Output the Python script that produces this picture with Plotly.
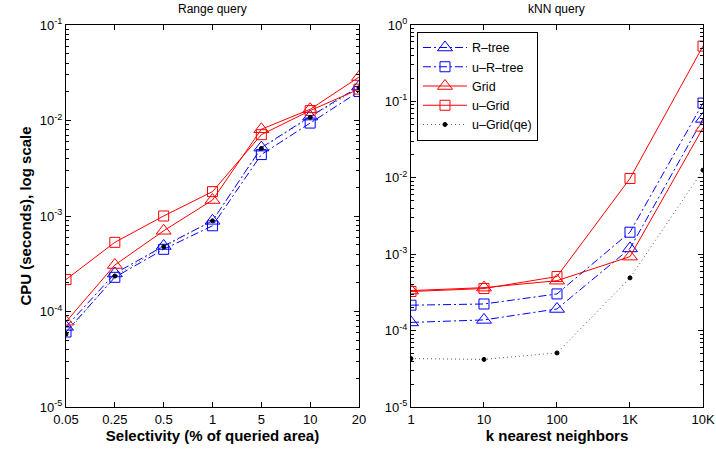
import plotly.graph_objects as go

# Range query (left)
selectivity = ["0.05", "0.25", "0.5", "1", "5", "10", "20"]
range_rtree = [6.9e-5, 2.5e-4, 4.85e-4, 8.9e-4, 5.2e-3, 1.1e-2, 2.27e-2]
range_urtree = [6.1e-5, 2.28e-4, 4.48e-4, 7.9e-4, 4.4e-3, 9.4e-3, 2.01e-2]
range_grid = [7.8e-5, 3.07e-4, 7.0e-4, 1.47e-3, 8.1e-3, 1.31e-2, 2.85e-2]
range_ugrid = [2.16e-4, 5.3e-4, 1.0e-3, 1.8e-3, 7.1e-3, 1.27e-2, 2.13e-2]
range_ugrid_qe = [5.8e-5, 2.35e-4, 4.77e-4, 8.9e-4, 5.1e-3, 1.08e-2, 2.2e-2]

# kNN query (right)
k_values = [1, 10, 100, 1000, 10000]
k_labels = ["1", "10", "100", "1K", "10K"]
knn_rtree = [1.28e-4, 1.38e-4, 1.92e-4, 1.19e-3, 5.9e-2]
knn_urtree = [2.15e-4, 2.23e-4, 3.02e-4, 1.94e-3, 9.5e-2]
knn_grid = [3.34e-4, 3.65e-4, 4.5e-4, 9.3e-4, 4.5e-2]
knn_ugrid = [3.25e-4, 3.55e-4, 5.1e-4, 9.8e-3, 0.53]
knn_ugrid_qe = [4.3e-5, 4.2e-5, 5.1e-5, 4.9e-4, 1.26e-2]

dashdot = '8px,3px,2px,3px'
series = [
    ("R\u2013tree", "blue", dashdot, "triangle-up-open", 13),
    ("u\u2013R\u2013tree", "blue", dashdot, "square-open", 10),
    ("Grid", "red", "solid", "triangle-up-open", 13),
    ("u\u2013Grid", "red", "solid", "square-open", 10),
    ("u\u2013Grid(qe)", "#555555", '1px,3px', "circle", 4),
]

left_data = [range_rtree, range_urtree, range_grid, range_ugrid, range_ugrid_qe]
right_data = [knn_rtree, knn_urtree, knn_grid, knn_ugrid, knn_ugrid_qe]

fig = go.Figure()

for (name, color, dash, symbol, size), ys in zip(series, left_data):
    mcolor = 'black' if symbol == 'circle' else color
    fig.add_trace(go.Scatter(
        x=selectivity, y=ys, xaxis='x', yaxis='y',
        mode='lines+markers', name=name, showlegend=False,
        line=dict(color=color, width=1, dash=dash),
        marker=dict(symbol=symbol, size=size, color=mcolor, line=dict(width=1, color=mcolor))
    ))

for (name, color, dash, symbol, size), ys in zip(series, right_data):
    mcolor = 'black' if symbol == 'circle' else color
    fig.add_trace(go.Scatter(
        x=k_values, y=ys, xaxis='x2', yaxis='y2',
        mode='lines+markers', name=name,
        line=dict(color=color, width=1, dash=dash),
        marker=dict(symbol=symbol, size=size, color=mcolor, line=dict(width=1, color=mcolor))
    ))

axis_common = dict(
    showline=True, linecolor='black', linewidth=1, mirror='allticks',
    ticks='inside', ticklen=5, tickcolor='black', showgrid=False, zeroline=False,
    tickfont=dict(size=13, color='black'), automargin=False,
)

def decade_ticks(lo, hi):
    vals = [10.0 ** e for e in range(lo, hi + 1)]
    text = [f"10<sup>{e}</sup>" for e in range(lo, hi + 1)]
    return vals, text

lv, lt = decade_ticks(-5, -1)
rv, rt = decade_ticks(-5, 0)

fig.update_layout(
    width=716, height=452,
    paper_bgcolor='white', plot_bgcolor='white',
    font=dict(family='Liberation Sans, Arial, sans-serif', color='black'),
    margin=dict(l=66, r=13, t=25, b=45),
    showlegend=True,
    legend=dict(x=0.551, y=0.982, xanchor='left', yanchor='top',
                bordercolor='black', borderwidth=1, bgcolor='white',
                font=dict(size=12.5), tracegroupgap=0, itemwidth=44),
    xaxis=dict(axis_common, domain=[0, 0.46], type='category', range=[0, 6],
               title=dict(text='<b>Selectivity (% of queried area)</b>', font=dict(size=15), standoff=2)),
    yaxis=dict(axis_common, type='log', range=[-5, -1], tickvals=lv, ticktext=lt,
               minor=dict(ticks='inside', ticklen=3, tickcolor='black', dtick='D1'),
               title=dict(text='<b>CPU (seconds), log scale</b>', font=dict(size=15), standoff=4)),
    xaxis2=dict(axis_common, domain=[0.5416, 1], type='log', range=[0, 4],
                tickvals=k_values, ticktext=k_labels, anchor='y2',
                title=dict(text='<b>k nearest neighbors</b>', font=dict(size=15), standoff=2)),
    yaxis2=dict(axis_common, type='log', range=[-5, 0], tickvals=rv, ticktext=rt, anchor='x2',
                minor=dict(ticks='inside', ticklen=3, tickcolor='black', dtick='D1')),
    annotations=[
        dict(text='Range query', x=0.23, y=1.0, xref='paper', yref='paper', yshift=7,
             xanchor='center', yanchor='bottom', showarrow=False, font=dict(size=12)),
        dict(text='kNN query', x=0.7708, y=1.0, xref='paper', yref='paper', yshift=7,
             xanchor='center', yanchor='bottom', showarrow=False, font=dict(size=12)),
    ],
)

# drop the default 8px body margin so the figure sits at the window corner
fig.write_html("out.html", config={'displayModeBar': False},
               post_script="document.body.style.margin='0';")
